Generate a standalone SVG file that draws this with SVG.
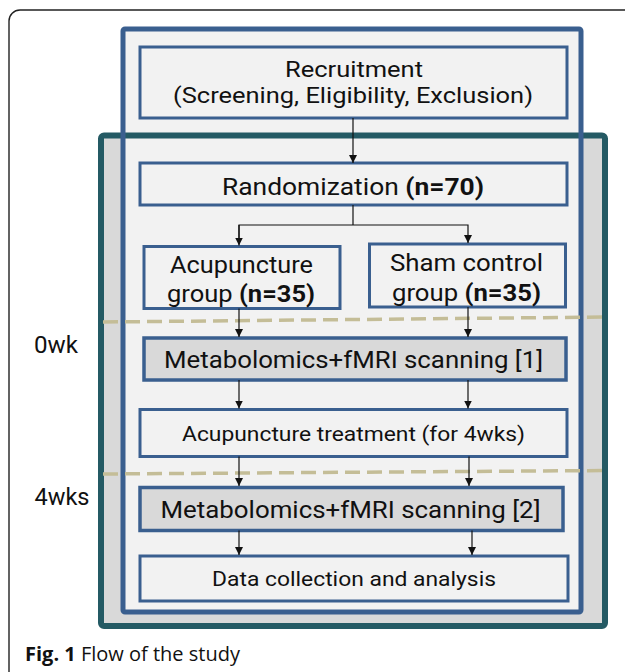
<svg xmlns="http://www.w3.org/2000/svg" width="625" height="672" viewBox="0 0 625 672">
<style>
text{font-family:Roboto,"Noto Sans",sans-serif;fill:#111;text-anchor:middle}
.box{fill:#f2f2f2;stroke:#3a5f8f;stroke-width:3}
.gbox{fill:#d9d9d9;stroke:#3a5f8f;stroke-width:3.5}
.lg{font-size:23px}
.sm{font-size:22px}
.md{font-size:20px}
.b{font-weight:bold}
.conn{fill:none;stroke:#111;stroke-width:1.2}
.dash{fill:none;stroke:#c4bd97;stroke-width:3.5;stroke-dasharray:15 7}
</style>
<defs>
<marker id="ah" markerWidth="8" markerHeight="8" refX="8" refY="4" orient="auto" markerUnits="userSpaceOnUse">
<path d="M0,0 L8,4 L0,8 Z" fill="#111"/>
</marker>
</defs>
<rect width="625" height="672" fill="#fff"/>
<rect x="9" y="10" width="700" height="720" rx="11" fill="#fff" stroke="#222" stroke-width="1.4"/>
<g id="frames">
<rect x="101" y="135.5" width="504" height="490.5" rx="3" fill="#d9d9d9"/>
<rect x="123" y="29" width="458" height="583" fill="#f2f2f2"/>
<rect x="101" y="135.5" width="504" height="490.5" rx="3" fill="none" stroke="#245a64" stroke-width="6"/>
<rect x="123" y="29" width="458" height="583" rx="2" fill="none" stroke="#3a5f8f" stroke-width="5"/>
</g>
<g id="timeline">
<line class="dash" x1="103" y1="322" x2="606" y2="317"/>
<line class="dash" x1="103" y1="474" x2="606" y2="470.5"/>
<text class="lg" x="56" y="353" textLength="44" lengthAdjust="spacingAndGlyphs">0wk</text>
<text class="lg" x="62" y="505" textLength="55" lengthAdjust="spacingAndGlyphs">4wks</text>
</g>
<g id="recruitment">
<rect class="box" x="140" y="47" width="427" height="71"/>
<text class="sm" x="354" y="77" textLength="138" lengthAdjust="spacingAndGlyphs">Recruitment</text>
<text class="sm" x="353" y="103" textLength="360" lengthAdjust="spacingAndGlyphs">(Screening, Eligibility, Exclusion)</text>
</g>
<g id="randomization">
<rect class="box" x="140" y="163" width="427" height="42"/>
<text class="lg" x="353" y="195" textLength="262" lengthAdjust="spacingAndGlyphs">Randomization <tspan class="b">(n=70)</tspan></text>
</g>
<g id="acupuncture-group">
<rect class="box" x="144" y="246.5" width="196" height="62"/>
<text class="lg" x="241.5" y="272.5" textLength="143" lengthAdjust="spacingAndGlyphs">Acupuncture</text>
<text class="lg" x="241" y="301.5" textLength="148" lengthAdjust="spacingAndGlyphs">group <tspan class="b">(n=35)</tspan></text>
</g>
<g id="sham-group">
<rect class="box" x="369.5" y="244" width="196" height="63"/>
<text class="lg" x="466.5" y="271" textLength="153" lengthAdjust="spacingAndGlyphs">Sham control</text>
<text class="lg" x="466.5" y="301" textLength="149" lengthAdjust="spacingAndGlyphs">group <tspan class="b">(n=35)</tspan></text>
</g>
<g id="scan1">
<rect class="gbox" x="144" y="338" width="422" height="42"/>
<text class="lg" x="353.5" y="368" textLength="379" lengthAdjust="spacingAndGlyphs">Metabolomics+fMRI scanning [1]</text>
</g>
<g id="treatment">
<rect class="box" x="140" y="409.5" width="427" height="47"/>
<text class="md" x="353.5" y="441" textLength="343" lengthAdjust="spacingAndGlyphs">Acupuncture treatment (for 4wks)</text>
</g>
<g id="scan2">
<rect class="gbox" x="140" y="487.5" width="423" height="43"/>
<text class="lg" x="350.5" y="518" textLength="380" lengthAdjust="spacingAndGlyphs">Metabolomics+fMRI scanning [2]</text>
</g>
<g id="data">
<rect class="box" x="140" y="556" width="428" height="45"/>
<text class="md" x="354" y="586" textLength="284" lengthAdjust="spacingAndGlyphs">Data collection and analysis</text>
</g>
<g id="connectors">
<line class="conn" x1="353" y1="118" x2="353" y2="163" marker-end="url(#ah)"/>
<polyline class="conn" points="353,205 353,225"/>
<polyline class="conn" points="239,244 239,225 468,225 468,243" marker-end="url(#ah)"/>
<line class="conn" x1="239" y1="225" x2="239" y2="245.5" marker-end="url(#ah)"/>
<line class="conn" x1="239" y1="308.5" x2="239" y2="337" marker-end="url(#ah)"/>
<line class="conn" x1="468" y1="307" x2="468" y2="337" marker-end="url(#ah)"/>
<line class="conn" x1="239" y1="380" x2="239" y2="408.5" marker-end="url(#ah)"/>
<line class="conn" x1="468" y1="380" x2="468" y2="408.5" marker-end="url(#ah)"/>
<line class="conn" x1="239" y1="456.5" x2="239" y2="486" marker-end="url(#ah)"/>
<line class="conn" x1="469" y1="456.5" x2="469" y2="486" marker-end="url(#ah)"/>
<line class="conn" x1="239" y1="530.5" x2="239" y2="555" marker-end="url(#ah)"/>
<line class="conn" x1="472" y1="530.5" x2="472" y2="555" marker-end="url(#ah)"/>
</g>
<g id="caption">
<text x="25" y="661" style="font-family:'Open Sans','Noto Sans',sans-serif;font-size:20px;text-anchor:start"><tspan font-weight="bold">Fig. 1</tspan> Flow of the study</text>
</g>
</svg>
